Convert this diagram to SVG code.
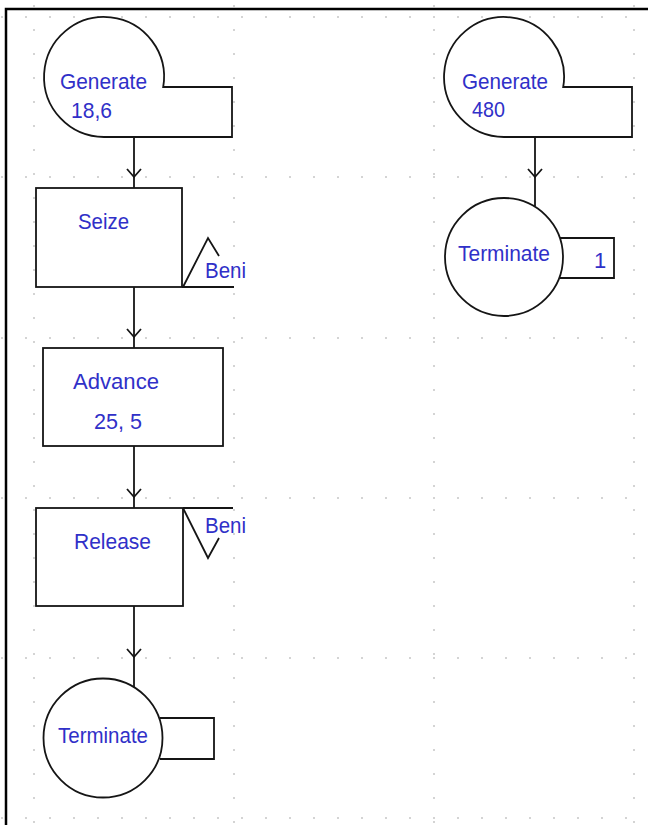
<svg xmlns="http://www.w3.org/2000/svg" width="648" height="825" viewBox="0 0 648 825">
<style>
.bg{fill:#fff}
.frame{stroke:#000;stroke-width:2.5;fill:none}
.gh{stroke:#b4b4b4;stroke-width:1.5;stroke-dasharray:1.5 22.5;fill:none}
.shape{fill:#fff;stroke:#151515;stroke-width:1.8}
.edge{stroke:#151515;stroke-width:1.8;fill:none}
.lbl{font-family:"Liberation Sans",Arial,sans-serif;font-size:22px;fill:#3030c8}
</style>
<rect class="bg" x="0" y="0" width="648" height="825"/>
<g id="grid">
<line class="gh" x1="1.25" y1="17" x2="648" y2="17"/>
<line class="gh" x1="1.25" y1="177" x2="648" y2="177"/>
<line class="gh" x1="1.25" y1="338" x2="648" y2="338"/>
<line class="gh" x1="1.25" y1="498" x2="648" y2="498"/>
<line class="gh" x1="1.25" y1="658" x2="648" y2="658"/>
<line class="gh" x1="1.25" y1="818" x2="648" y2="818"/>
<line class="gh" x1="34" y1="5.25" x2="34" y2="825"/>
<line class="gh" x1="234" y1="5.25" x2="234" y2="825"/>
<line class="gh" x1="434" y1="5.25" x2="434" y2="825"/>
<line class="gh" x1="634" y1="5.25" x2="634" y2="825"/>
</g>
<path class="frame" d="M6,825 V9 H648"/>
<g id="connectors">
<line class="edge" x1="134" y1="137" x2="134" y2="188"/>
<path class="edge" d="M127,169 L134,177 L141,169"/>
<line class="edge" x1="134" y1="287" x2="134" y2="348"/>
<path class="edge" d="M127,329 L134,337 L141,329"/>
<line class="edge" x1="134" y1="446" x2="134" y2="508"/>
<path class="edge" d="M127,489 L134,497 L141,489"/>
<line class="edge" x1="134" y1="606" x2="134" y2="687"/>
<path class="edge" d="M127,649 L134,657 L141,649"/>
<line class="edge" x1="535" y1="137" x2="535" y2="206"/>
<path class="edge" d="M528,169 L535,177 L542,169"/>
</g>
<g id="generate1">
<path class="shape" d="M104,137 A60,60 0 1 1 163.2,87 L232,87 L232,137 Z"/>
<text class="lbl" x="60" y="89" textLength="87" lengthAdjust="spacingAndGlyphs">Generate</text>
<text class="lbl" x="71" y="118" textLength="41" lengthAdjust="spacingAndGlyphs">18,6</text>
</g>
<g id="seize">
<rect class="shape" x="36" y="188" width="146" height="99"/>
<path class="edge" d="M182,287 H234 M183,287 L208,238 L219,256"/>
<text class="lbl" x="78" y="229" textLength="51" lengthAdjust="spacingAndGlyphs">Seize</text>
<text class="lbl" x="205" y="278" textLength="41" lengthAdjust="spacingAndGlyphs">Beni</text>
</g>
<g id="advance">
<rect class="shape" x="43" y="348" width="180" height="98"/>
<text class="lbl" x="73" y="389" textLength="86" lengthAdjust="spacingAndGlyphs">Advance</text>
<text class="lbl" x="94" y="429" textLength="48" lengthAdjust="spacingAndGlyphs">25, 5</text>
</g>
<g id="release">
<rect class="shape" x="36" y="508" width="147" height="98"/>
<path class="edge" d="M183,508 H233 M183,508 L208,558 L219,538"/>
<text class="lbl" x="74" y="549" textLength="77" lengthAdjust="spacingAndGlyphs">Release</text>
<text class="lbl" x="205" y="533" textLength="41" lengthAdjust="spacingAndGlyphs">Beni</text>
</g>
<g id="terminate1">
<path class="shape" d="M160,718 H214 V759 H160"/>
<circle class="shape" cx="103" cy="738" r="59.5"/>
<text class="lbl" x="58" y="743" textLength="90" lengthAdjust="spacingAndGlyphs">Terminate</text>
</g>
<g id="generate2">
<path class="shape" d="M504,137 A60,60 0 1 1 563.2,87 L632,87 L632,137 Z"/>
<text class="lbl" x="462" y="89" textLength="86" lengthAdjust="spacingAndGlyphs">Generate</text>
<text class="lbl" x="472" y="117" textLength="33" lengthAdjust="spacingAndGlyphs">480</text>
</g>
<g id="terminate2">
<path class="shape" d="M560,238 H614 V278 H560"/>
<circle class="shape" cx="504" cy="257" r="59"/>
<text class="lbl" x="458" y="261" textLength="92" lengthAdjust="spacingAndGlyphs">Terminate</text>
<text class="lbl" x="594" y="268">1</text>
</g>
</svg>
